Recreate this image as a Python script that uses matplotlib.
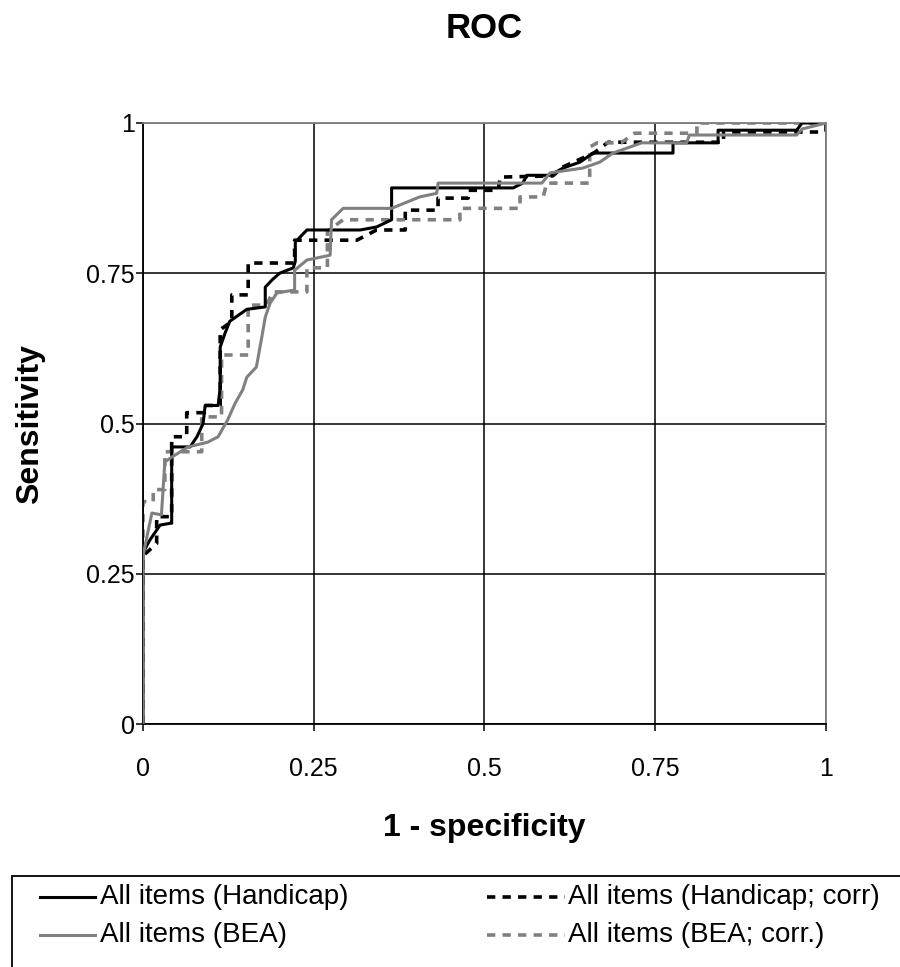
import numpy as np
import matplotlib
matplotlib.use("Agg")
import matplotlib.pyplot as plt
from matplotlib.lines import Line2D
from matplotlib.patches import Rectangle

plt.rcParams['font.family'] = ['Liberation Sans', 'DejaVu Sans']

# ROC curves (x = 1 - specificity, y = sensitivity)
handicap_x = [0, 0, 0.01, 0.025, 0.04, 0.042, 0.042, 0.069, 0.079, 0.088, 0.091, 0.11, 0.113,
              0.113, 0.12, 0.127, 0.152, 0.179, 0.179, 0.19, 0.2, 0.22, 0.223, 0.223, 0.24,
              0.318, 0.342, 0.364, 0.364, 0.542, 0.556, 0.562, 0.596, 0.615, 0.64, 0.659,
              0.776, 0.776, 0.842, 0.842, 0.957, 0.965, 1.0]
handicap_y = [0, 0.285, 0.306, 0.331, 0.334, 0.334, 0.461, 0.461, 0.478, 0.5, 0.53, 0.53, 0.56,
              0.627, 0.65, 0.67, 0.69, 0.694, 0.727, 0.74, 0.75, 0.759, 0.77, 0.802, 0.822,
              0.822, 0.827, 0.839, 0.892, 0.892, 0.9, 0.913, 0.913, 0.925, 0.935, 0.95,
              0.95, 0.967, 0.967, 0.988, 0.988, 1.0, 1.0]

handicap_corr_x = [0, 0, 0.02, 0.02, 0.042, 0.042, 0.064, 0.064, 0.09, 0.09, 0.113, 0.113, 0.13,
                   0.13, 0.154, 0.154, 0.222, 0.222, 0.313, 0.342, 0.384, 0.384, 0.432, 0.432,
                   0.476, 0.476, 0.52, 0.523, 0.6, 0.615, 0.66, 0.681, 0.85, 0.85, 1.0, 1.0]
handicap_corr_y = [0, 0.28, 0.3, 0.345, 0.345, 0.478, 0.478, 0.518, 0.518, 0.53, 0.53, 0.656, 0.67,
                   0.714, 0.714, 0.767, 0.767, 0.805, 0.805, 0.822, 0.822, 0.855, 0.855, 0.875,
                   0.875, 0.888, 0.888, 0.91, 0.912, 0.927, 0.95, 0.968, 0.968, 0.985, 0.985, 1.0]

bea_x = [0, 0, 0.013, 0.027, 0.032, 0.042, 0.066, 0.095, 0.11, 0.124, 0.135, 0.146, 0.152,
         0.166, 0.174, 0.179, 0.186, 0.196, 0.205, 0.222, 0.222, 0.24, 0.274, 0.276, 0.293,
         0.364, 0.405, 0.43, 0.432, 0.584, 0.596, 0.644, 0.669, 0.688, 0.713, 0.73, 0.796,
         0.8, 0.957, 0.965, 1.0]
bea_y = [0, 0.28, 0.351, 0.348, 0.436, 0.444, 0.461, 0.469, 0.478, 0.506, 0.534, 0.556, 0.577,
         0.594, 0.644, 0.677, 0.7, 0.717, 0.719, 0.722, 0.755, 0.772, 0.78, 0.839, 0.858,
         0.858, 0.877, 0.883, 0.9, 0.9, 0.917, 0.925, 0.935, 0.95, 0.96, 0.967, 0.967,
         0.98, 0.98, 0.99, 1.0]

bea_corr_x = [0, 0, 0.015, 0.015, 0.032, 0.032, 0.086, 0.086, 0.115, 0.115, 0.154, 0.154, 0.181,
              0.19, 0.24, 0.24, 0.27, 0.27, 0.293, 0.464, 0.464, 0.552, 0.552, 0.586, 0.591,
              0.654, 0.654, 0.665, 0.7, 0.72, 0.811, 0.811, 1.0]
bea_corr_y = [0, 0.37, 0.37, 0.39, 0.39, 0.453, 0.453, 0.511, 0.511, 0.614, 0.614, 0.697, 0.697,
              0.719, 0.719, 0.759, 0.759, 0.82, 0.839, 0.839, 0.858, 0.858, 0.877, 0.877, 0.9,
              0.9, 0.96, 0.967, 0.967, 0.983, 0.983, 1.0, 1.0]

labels = ["All items (Handicap)", "All items (BEA)",
          "All items (Handicap; corr)", "All items (BEA; corr.)"]
ticks = [0, 0.25, 0.5, 0.75, 1]
tick_labels = ["0", "0.25", "0.5", "0.75", "1"]

GRAY = "#808080"
W, H = 900, 967
DASH = (2.3, 2.0)

fig = plt.figure(figsize=(W / 100, H / 100), dpi=100)
ax = fig.add_axes([143 / W, 1 - 724 / H, 683 / W, 601 / H])

def px(x, y):
    # pixel position (from top left) -> figure fraction
    return x / W, 1 - y / H

ax.plot(handicap_x, handicap_y, color="black", lw=2.2, label=labels[0],
        solid_joinstyle="round", zorder=3)
ax.plot(bea_x, bea_y, color=GRAY, lw=2.2, label=labels[1],
        solid_joinstyle="round", zorder=3)
ax.plot(handicap_corr_x, handicap_corr_y, color="black", lw=2.6, dashes=DASH,
        label=labels[2], zorder=2)
ax.plot(bea_corr_x, bea_corr_y, color=GRAY, lw=2.6, dashes=DASH,
        label=labels[3], zorder=2)

ax.set_xlim(0, 1)
ax.set_ylim(0, 1)
ax.set_xticks(ticks)
ax.set_xticklabels(tick_labels)
ax.set_yticks(ticks)
ax.set_yticklabels(tick_labels)
ax.grid(True, color="black", lw=1.1)
ax.set_axisbelow(True)
ax.tick_params(axis="both", labelsize=18, direction="out", length=5, width=1.1)
ax.tick_params(axis="x", pad=19)
ax.tick_params(axis="y", pad=1)
for s in ["left", "bottom"]:
    ax.spines[s].set_color("black")
    ax.spines[s].set_linewidth(1.3)
for s in ["top", "right"]:
    ax.spines[s].set_color(GRAY)
    ax.spines[s].set_linewidth(1.3)

fig.text(*px(484, 828), "1 - specificity", ha="center", va="center",
         fontsize=23, fontweight="bold")
fig.text(*px(30, 424), "Sensitivity", ha="center", va="center", rotation=90,
         fontsize=23, fontweight="bold")
fig.text(*px(484, 28), "ROC", ha="center", va="center",
         fontsize=25, fontweight="bold")

# legend box, running off the right and bottom edge as in the original
x0, y0 = px(12, 876)
fig.add_artist(Rectangle((x0, -0.05), 1.05 - x0, y0 + 0.05, transform=fig.transFigure,
                         fill=False, edgecolor="black", lw=1.3, clip_on=False))
slots = [(40, 95, 100, 897), (40, 95, 100, 935), (487, 565, 568, 897), (487, 565, 568, 935)]
for line, (xa, xb, xt, yr) in zip(ax.get_lines(), slots):
    (fa, fy), (fb, _) = px(xa, yr), px(xb, yr)
    solid = line.get_linestyle() == "-"
    fig.add_artist(Line2D([fa, fb], [fy, fy], transform=fig.transFigure,
                          color=line.get_color(), lw=line.get_linewidth(),
                          dashes=(None, None) if solid else DASH))
    fig.text(*px(xt, yr), line.get_label(), ha="left", va="center", fontsize=20)

fig.savefig("out.png", dpi=100)
